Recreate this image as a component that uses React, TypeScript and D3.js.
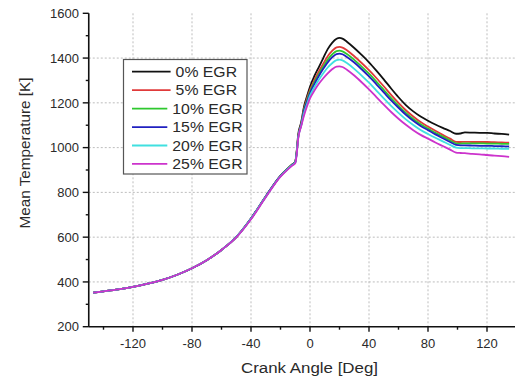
import React from "react";
import * as d3 from "d3";

const angles = [-147,-140,-130,-120,-110,-100,-90,-80,-70,-60,-50,-40,-30,-20,-15,-12,-10,-9,-8,-6,-4,-2,0,3,6,9,12,15,18,20,22,25,30,35,40,45,50,55,60,65,70,75,80,85,90,95,99,102,105,110,115,120,125,130,135];

const egr0 = [352,358,367,378,392,409,432,461,497,543,600,683,782,874,907,925,937,985,1058,1112,1185,1230,1272,1320,1360,1400,1440,1468,1486,1490,1487,1473,1445,1414,1381,1344,1305,1264,1225,1190,1162,1139,1120,1103,1088,1074,1062,1063,1068,1067,1066,1066,1063,1061,1058];
const egr5 = [352,358,367,378,392,409,432,461,497,543,600,683,782,874,907,925,937,982,1050,1105,1175,1220,1258,1302,1340,1375,1408,1432,1448,1450,1447,1435,1408,1378,1346,1311,1274,1236,1200,1167,1139,1114,1094,1075,1057,1040,1026,1025,1026,1025,1025,1025,1024,1023,1022];
const egr10 = [352,358,367,378,392,409,432,461,497,543,600,683,782,874,907,925,936,980,1048,1102,1170,1212,1250,1292,1328,1362,1393,1416,1431,1433,1430,1418,1392,1362,1330,1295,1258,1221,1187,1155,1128,1104,1085,1066,1049,1032,1019,1018,1019,1019,1019,1018,1018,1017,1017];
const egr15 = [352,358,367,378,392,409,432,461,497,543,600,683,782,874,906,924,935,978,1046,1100,1165,1206,1243,1284,1320,1352,1381,1403,1418,1420,1417,1405,1380,1350,1318,1283,1247,1211,1178,1147,1120,1097,1078,1059,1042,1025,1012,1010,1010,1009,1008,1008,1007,1006,1005];
const egr20 = [352,358,367,378,392,409,432,461,497,543,600,682,780,872,905,922,933,975,1043,1097,1155,1195,1232,1270,1303,1332,1358,1377,1391,1393,1390,1378,1352,1322,1290,1255,1220,1186,1155,1126,1101,1079,1061,1044,1028,1012,1000,998,998,997,997,996,996,995,995];
const egr25 = [352,358,367,378,392,409,432,461,497,543,599,680,778,870,903,920,930,970,1040,1095,1145,1185,1220,1255,1285,1310,1332,1350,1362,1363,1360,1348,1322,1292,1260,1226,1192,1159,1129,1102,1078,1057,1040,1023,1007,991,978,976,975,972,970,967,964,962,959];

const seriesLabels = ["0% EGR", "5% EGR", "10% EGR", "15% EGR", "20% EGR", "25% EGR"];
const seriesValues = [egr0, egr5, egr10, egr15, egr20, egr25];
const seriesColors = ["#111111", "#e03a3a", "#2ec82e", "#2020c0", "#40e0e0", "#cc33cc"];

const xMajor = [-120, -80, -40, 0, 40, 80, 120];
const xMinor = [-140, -100, -60, -20, 20, 60, 100, 140];
const yMajor = [200, 400, 600, 800, 1000, 1200, 1400, 1600];
const yMinor = [300, 500, 700, 900, 1100, 1300, 1500];

const FONT = "'Liberation Sans', Arial, sans-serif";
const TXT = "#2a2a2a";

export default function App() {
  const W = 515, H = 379;
  const x = d3.scaleLinear().domain([-150, 140]).range([88.75, 516.5]);
  const y = d3.scaleLinear().domain([200, 1600]).range([326.7, 13.3]);
  const line = d3.line<[number, number]>()
    .x(d => x(d[0]))
    .y(d => y(d[1]))
    .curve(d3.curveMonotoneX);

  const axisY = y(200);
  const axisX = x(-150);

  return (
    <svg width={W} height={H} style={{ position: "absolute", left: 0, top: 0, background: "#fff" }}>
      <rect x={0} y={0} width={W} height={H} fill="#fff" />
      {xMajor.map(v => (
        <line key={"gx" + v} x1={x(v)} x2={x(v)} y1={y(1600)} y2={axisY} stroke="#bdbdbd" strokeWidth={1} strokeDasharray="2,2" />
      ))}
      {yMajor.filter(v => v > 200 && v < 1600).map(v => (
        <line key={"gy" + v} x1={axisX} x2={W} y1={y(v)} y2={y(v)} stroke="#bdbdbd" strokeWidth={1} strokeDasharray="2,2" />
      ))}
      {seriesValues.map((vals, i) => (
        <path key={"s" + i} d={line(angles.map((a, j) => [a, vals[j]]) as [number, number][]) || ""} fill="none" stroke={seriesColors[i]} strokeWidth={1.8} strokeLinejoin="round" />
      ))}
      <line x1={axisX} x2={W} y1={axisY} y2={axisY} stroke="#111" strokeWidth={1.6} />
      <line x1={axisX} x2={axisX} y1={y(1600)} y2={axisY} stroke="#111" strokeWidth={1.6} />
      {xMajor.map(v => (
        <g key={"xt" + v}>
          <line x1={x(v)} x2={x(v)} y1={axisY} y2={axisY + 5} stroke="#111" strokeWidth={1.4} />
          <text x={x(v)} y={348} textAnchor="middle" fontFamily={FONT} fontSize={13} fill={TXT}>{v}</text>
        </g>
      ))}
      {xMinor.map(v => (
        <line key={"xm" + v} x1={x(v)} x2={x(v)} y1={axisY} y2={axisY + 3} stroke="#111" strokeWidth={1.4} />
      ))}
      {yMajor.map(v => (
        <g key={"yt" + v}>
          <line x1={axisX - 6} x2={axisX} y1={y(v)} y2={y(v)} stroke="#111" strokeWidth={1.4} />
          <text x={79} y={y(v)} dy="0.36em" textAnchor="end" fontFamily={FONT} fontSize={13} fill={TXT}>{v}</text>
        </g>
      ))}
      {yMinor.map(v => (
        <line key={"ym" + v} x1={axisX - 3} x2={axisX} y1={y(v)} y2={y(v)} stroke="#111" strokeWidth={1.4} />
      ))}
      <text transform="translate(309.5,372.5) scale(1.09,1)" textAnchor="middle" fontFamily={FONT} fontSize={15.5} fill={TXT}>Crank Angle [Deg]</text>
      <text transform="translate(30,153) rotate(-90)" textAnchor="middle" fontFamily={FONT} fontSize={15.3} fill={TXT}>Mean Temperature [K]</text>
      <rect x={123.5} y={59.5} width={123.5} height={114.5} fill="#fff" stroke="#555" strokeWidth={1.2} />
      {seriesLabels.map((lab, i) => {
        const cy = 71.7 + i * 18.45;
        const tx = lab.length > 6 ? 172.3 : 175.6;
        return (
          <g key={"lg" + i}>
            <line x1={132} x2={tx - 5} y1={cy} y2={cy} stroke={seriesColors[i]} strokeWidth={1.8} />
            <text transform={`translate(${tx},${cy + 5}) scale(1.13,1)`} fontFamily={FONT} fontSize={14} fill={TXT}>{lab}</text>
          </g>
        );
      })}
    </svg>
  );
}
